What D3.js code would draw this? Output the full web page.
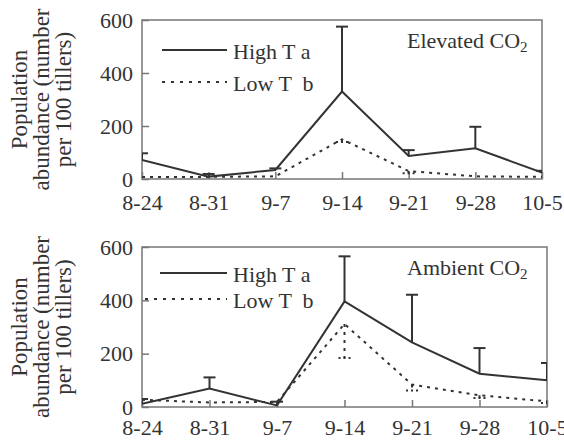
<!DOCTYPE html>
<html>
<head>
<meta charset="utf-8">
<script src="https://cdn.jsdelivr.net/npm/d3@7"></script>
<style>
  body { margin: 0; background: #fff; }
</style>
</head>
<body>
<svg id="chart"></svg>
<script>
// sampling dates
const dates = ["8-24", "8-31", "9-7", "9-14", "9-21", "9-28", "10-5"];
const yTicks = [0, 200, 400, 600];

// Elevated CO2
const elevHigh = [72, 9, 34, 330, 87, 116, 24];
const elevHighErr = [97, 19, 40, 575, 109, 197, 31];
const elevLow = [8, 8, 10, 150, 30, 10, 8];
const elevLowErr = [8, 8, 10, 140, 22, 10, 8];

// Ambient CO2
const ambHigh = [12, 69, 6, 396, 242, 125, 100];
const ambHighErr = [30, 111, 20, 565, 421, 221, 165];
const ambLow = [27, 17, 19, 311, 84, 44, 21];
const ambLowErr = [27, 17, 19, 184, 62, 34, 15];

const width = 564;
const height = 440;
const ink = "#333";
const serif = '"Liberation Serif"';

const svg = d3.select("#chart").attr("width", width).attr("height", height);

function drawPanel(cfg) {
  const x = d3.scalePoint().domain(dates).range([cfg.left, cfg.right]);
  const y = d3.scaleLinear().domain([0, 600]).range([cfg.bottom, cfg.top]);

  const g = svg.append("g");

  // clip so caps at the ends stay inside the frame
  const clipId = "clip-" + cfg.id;
  g.append("clipPath").attr("id", clipId)
    .append("rect")
    .attr("x", cfg.left).attr("y", cfg.top - 10)
    .attr("width", cfg.right - cfg.left).attr("height", cfg.bottom - cfg.top + 10);

  // frame
  g.append("rect")
    .attr("x", cfg.left).attr("y", cfg.top)
    .attr("width", cfg.right - cfg.left).attr("height", cfg.bottom - cfg.top)
    .attr("fill", "none").attr("stroke", "#777").attr("stroke-width", 1.5);

  // x axis, ticks pointing inward
  const xAxis = g.append("g")
    .attr("transform", `translate(0,${cfg.bottom})`)
    .call(d3.axisBottom(x).tickSizeInner(-7).tickSizeOuter(0).tickPadding(cfg.xPad));
  xAxis.attr("font-family", null);
  xAxis.select(".domain").remove();
  xAxis.selectAll("line").attr("stroke", "#777").attr("stroke-width", 1.5);
  xAxis.selectAll("text").attr("font-size", 22).attr("fill", ink)
    .style("font-family", serif);

  // y axis
  const yAxis = g.append("g")
    .attr("transform", `translate(${cfg.left},0)`)
    .call(d3.axisLeft(y).tickValues(yTicks).tickSizeInner(-7).tickSizeOuter(0).tickPadding(9));
  yAxis.attr("font-family", null);
  yAxis.select(".domain").remove();
  yAxis.selectAll("line").attr("stroke", "#777").attr("stroke-width", 1.5);
  yAxis.selectAll("text").attr("font-size", 22).attr("fill", ink)
    .style("font-family", serif);

  const marks = g.append("g").attr("clip-path", `url(#${clipId})`);

  const series = [
    { vals: cfg.high, err: cfg.highErr, dash: null },
    { vals: cfg.low, err: cfg.lowErr, dash: "3,5" }
  ];

  const line = d3.line().x((d, i) => x(dates[i])).y(d => y(d));

  series.forEach(s => {
    // error bars
    s.vals.forEach((v, i) => {
      if (s.err[i] === v) return;
      const cx = x(dates[i]);
      marks.append("line")
        .attr("x1", cx).attr("x2", cx)
        .attr("y1", y(v)).attr("y2", y(s.err[i]))
        .attr("stroke", ink).attr("stroke-width", 2)
        .attr("stroke-dasharray", s.dash);
      marks.append("line")
        .attr("x1", cx - 6).attr("x2", cx + 6)
        .attr("y1", y(s.err[i])).attr("y2", y(s.err[i]))
        .attr("stroke", ink).attr("stroke-width", 2)
        .attr("stroke-dasharray", s.dash ? "2,3" : null);
    });

    marks.append("path")
      .datum(s.vals)
      .attr("fill", "none")
      .attr("stroke", ink)
      .attr("stroke-width", 2)
      .attr("stroke-dasharray", s.dash)
      .attr("d", line);
  });

  // legend
  const lg = g.append("g");
  lg.append("line")
    .attr("x1", cfg.legX1).attr("x2", 227)
    .attr("y1", cfg.legY[0]).attr("y2", cfg.legY[0])
    .attr("stroke", ink).attr("stroke-width", 2);
  lg.append("line")
    .attr("x1", cfg.legX2).attr("x2", 227)
    .attr("y1", cfg.legY[1]).attr("y2", cfg.legY[1])
    .attr("stroke", ink).attr("stroke-width", 2).attr("stroke-dasharray", "3,6");
  lg.append("text").attr("x", 233).attr("y", cfg.legY[0] + 9)
    .attr("font-size", 22).attr("fill", ink).style("font-family", serif)
    .text("High T a");
  lg.append("text").attr("x", 233).attr("y", cfg.legY[1] + 9)
    .attr("font-size", 22).attr("fill", ink).style("font-family", serif)
    .style("white-space", "pre").text("Low T  b");

  // condition label
  const t = g.append("text")
    .attr("x", 407).attr("y", cfg.top + 28)
    .attr("font-size", 22).attr("fill", ink).style("font-family", serif);
  t.append("tspan").text(cfg.title + " CO");
  t.append("tspan").attr("font-size", 15).attr("dy", 4).text("2");

  // y label
  const mid = (cfg.top + cfg.bottom) / 2;
  ["Population", "abundance (number", "per 100 tillers)"].forEach((s, i) => {
    g.append("text")
      .attr("transform", `translate(${19 + i * 22},${mid}) rotate(-90)`)
      .attr("text-anchor", "middle")
      .attr("dominant-baseline", "central")
      .attr("font-size", 23)
      .attr("fill", ink)
      .style("font-family", serif)
      .text(s);
  });
}

drawPanel({
  id: "elev", title: "Elevated",
  left: 142, right: 542, top: 20, bottom: 179, xPad: 15,
  high: elevHigh, highErr: elevHighErr, low: elevLow, lowErr: elevLowErr,
  legX1: 162, legX2: 162, legY: [50, 82]
});

drawPanel({
  id: "amb", title: "Ambient",
  left: 142, right: 547, top: 247, bottom: 407, xPad: 12,
  high: ambHigh, highErr: ambHighErr, low: ambLow, lowErr: ambLowErr,
  legX1: 160, legX2: 145, legY: [273, 299]
});
</script>
</body>
</html>
